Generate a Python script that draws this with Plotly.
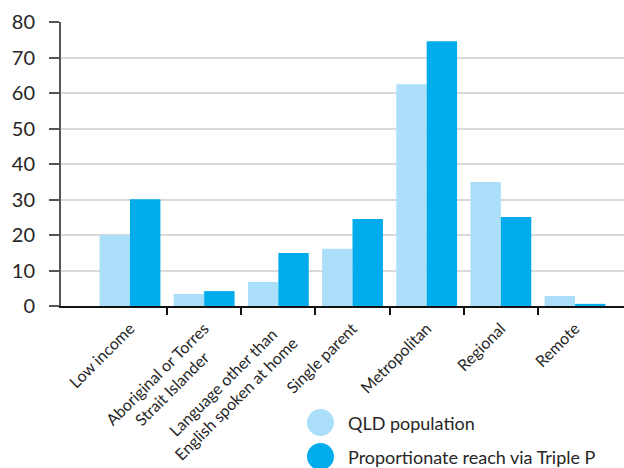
import plotly.graph_objects as go

NB = "\u00a0"
categories = ["Low income",
              "Aboriginal or Torres<br>Strait Islander" + NB * 5,
              "Language other than" + NB * 2 + "<br>English spoken at home",
              "Single parent", "Metropolitan", "Regional", "Remote"]
qld_population = [20.0, 3.4, 6.8, 16.1, 62.5, 34.9, 2.8]
triple_p_reach = [30.1, 4.2, 14.9, 24.5, 74.6, 25.1, 0.6]
y_ticks = [0, 10, 20, 30, 40, 50, 60, 70, 80]
series_names = ["QLD population", "Proportionate reach via Triple P"]

LIGHT = "#abdff9"
DARK = "#00acec"
FONT = "Lato"
TXT = "#262626"

idx = list(range(len(categories)))

fig = go.Figure()
fig.add_trace(go.Bar(x=idx, y=qld_population, marker_color=LIGHT, name=series_names[0],
                     showlegend=False, marker_line_width=0))
fig.add_trace(go.Bar(x=idx, y=triple_p_reach, marker_color=DARK, name=series_names[1],
                     showlegend=False, marker_line_width=0))
# helper trace for boundary tick axis
fig.add_trace(go.Scatter(x=[None], y=[None], xaxis="x2", showlegend=False, hoverinfo="skip"))

# custom legend (large circles)
W, H, L, T = 563.0, 284.0, 61.0, 22.0
def px_x(p):
    return (p - L) / W
def px_y(p):
    return (T + H - p) / H

legend_rows = [(series_names[0], LIGHT, 422.5), (series_names[1], DARK, 456.5)]
for name, col, cy in legend_rows:
    fig.add_shape(type="circle", xref="paper", yref="paper",
                  x0=px_x(307), x1=px_x(334), y0=px_y(cy + 13.5), y1=px_y(cy - 13.5),
                  fillcolor=col, line_width=0)
    fig.add_annotation(text=name, xref="paper", yref="paper", x=px_x(346), y=px_y(cy),
                       xanchor="left", yanchor="middle", showarrow=False,
                       font=dict(size=18, family=FONT, color=TXT))

xr = [-0.93, 6.66]
fig.update_layout(
    width=624, height=468,
    margin=dict(l=61, r=0, t=22, b=162),
    paper_bgcolor="white", plot_bgcolor="white",
    font=dict(family=FONT, color=TXT),
    barmode="group", bargap=0.18, bargroupgap=0,
    showlegend=False,
    xaxis=dict(range=xr, tickmode="array", tickvals=idx, ticktext=categories,
               tickangle=-45, ticks="outside", ticklen=5, tickcolor="rgba(0,0,0,0)",
               tickfont=dict(size=16, family=FONT, color=TXT),
               showline=True, linecolor="#111111", linewidth=2, showgrid=False,
               zeroline=False, automargin=False),
    xaxis2=dict(range=xr, overlaying="x", tickmode="array",
                tickvals=[i + 0.5 for i in idx[:-1]], ticks="outside", ticklen=8,
                tickwidth=2, tickcolor="#111111", showticklabels=False,
                showline=False, showgrid=False, zeroline=False, side="bottom",
                anchor="y", automargin=False),
    yaxis=dict(range=[0, 80], tickmode="array", tickvals=y_ticks,
               ticks="outside", ticklen=10, tickwidth=2, tickcolor="#555555",
               tickfont=dict(size=20, family=FONT, color=TXT),
               showline=True, linecolor="#555555", linewidth=2,
               showgrid=True, gridcolor="#d9d9d9", gridwidth=1.5, zeroline=False,
               ticklabelstandoff=10, automargin=False),
)

fig.write_html("out.html")
